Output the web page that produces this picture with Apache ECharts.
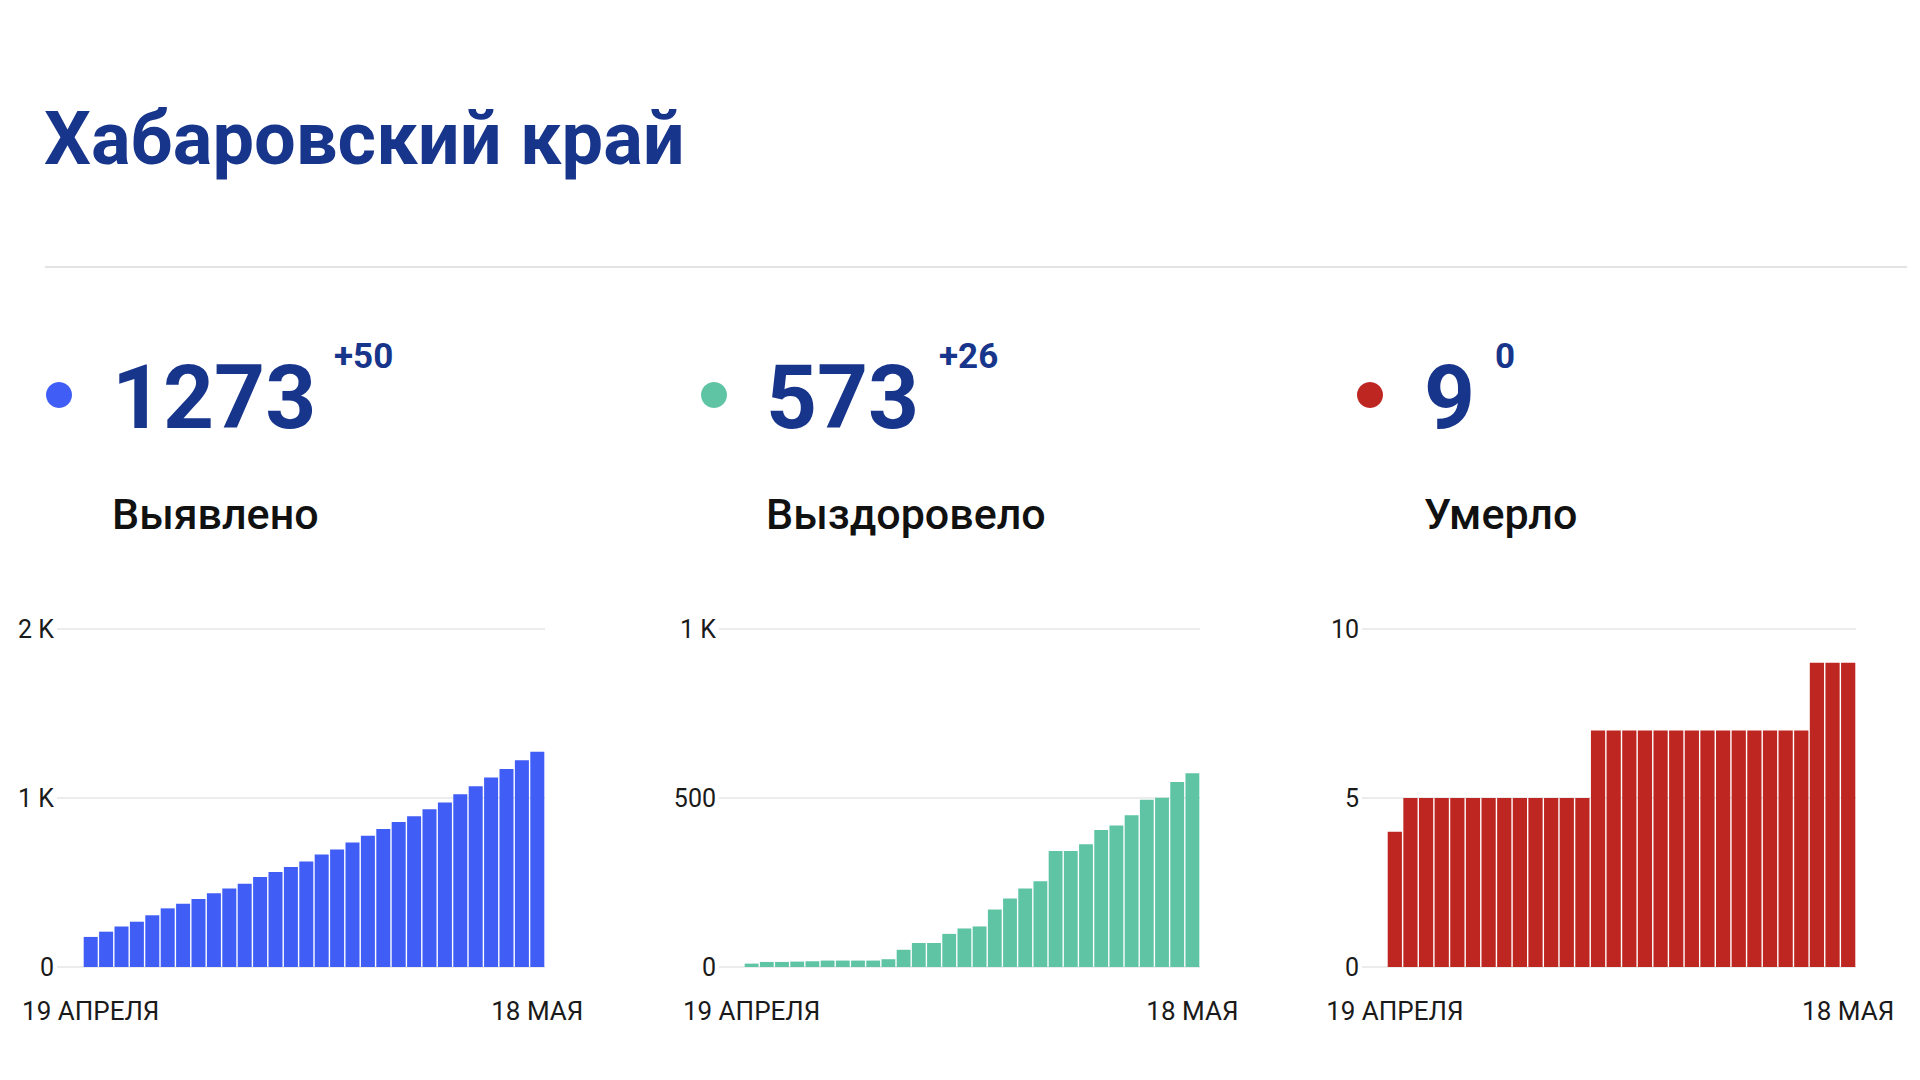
<!DOCTYPE html>
<html>
<head>
<meta charset="utf-8">
<script src="https://cdn.jsdelivr.net/npm/echarts@6/dist/echarts.min.js"></script>
<style>
html,body{margin:0;padding:0;background:#ffffff;}
#chart{width:1920px;height:1080px;}
</style>
</head>
<body>
<div id="chart"></div>
<script>
// ---- Data ----
const titleText = 'Хабаровский край';
const dates = ['19 АПРЕЛЯ','20 АПРЕЛЯ','21 АПРЕЛЯ','22 АПРЕЛЯ','23 АПРЕЛЯ','24 АПРЕЛЯ','25 АПРЕЛЯ','26 АПРЕЛЯ','27 АПРЕЛЯ','28 АПРЕЛЯ','29 АПРЕЛЯ','30 АПРЕЛЯ',
  '1 МАЯ','2 МАЯ','3 МАЯ','4 МАЯ','5 МАЯ','6 МАЯ','7 МАЯ','8 МАЯ','9 МАЯ','10 МАЯ','11 МАЯ','12 МАЯ','13 МАЯ','14 МАЯ','15 МАЯ','16 МАЯ','17 МАЯ','18 МАЯ'];
const detected  = [178,209,239,268,306,347,375,402,436,464,493,533,562,592,625,665,696,736,777,817,858,892,933,974,1022,1069,1122,1172,1223,1273];
const recovered = [10,15,15,16,17,19,19,19,19,23,51,71,71,98,114,120,170,203,232,254,343,343,363,405,419,449,495,501,547,573];
const deaths    = [4,5,5,5,5,5,5,5,5,5,5,5,5,7,7,7,7,7,7,7,7,7,7,7,7,7,7,9,9,9];
const totals = ['1273','573','9'];
const deltas = ['+50','+26','0'];
const names  = ['Выявлено','Выздоровело','Умерло'];
const detectedTicks  = {0:'0',1000:'1 K',2000:'2 K'};
const recoveredTicks = {0:'0',500:'500',1000:'1 K'};
const deathsTicks    = {0:'0',5:'5',10:'10'};

// ---- Layout / style ----
const navy = '#18358c';
const FONT = 'Roboto, "Noto Sans", sans-serif';
const panels = [
  {data: detected,  ticks: detectedTicks,  max: 2000, interval: 1000, color: '#405ef5', dotX: 59,   textX: 112,  supX: 334,  gridLeft: 57,   barLeft: 83,   right: 545},
  {data: recovered, ticks: recoveredTicks, max: 1000, interval: 500,  color: '#5ec4a4', dotX: 714,  textX: 766,  supX: 939,  gridLeft: 719,  barLeft: 744,  right: 1200},
  {data: deaths,    ticks: deathsTicks,    max: 10,   interval: 5,    color: '#be2622', dotX: 1370, textX: 1424, supX: 1495, gridLeft: 1362, barLeft: 1387, right: 1856}
];
const gridTop = 629, gridHeight = 338;

const grids = [], xAxes = [], yAxes = [], series = [], graphics = [];

graphics.push({type:'text', x: 44, y: 138, style:{text: titleText, font: 'bold 74px ' + FONT, fill: navy, textAlign:'left', textVerticalAlign:'middle'}});
graphics.push({type:'line', shape:{x1:45, y1:267, x2:1907, y2:267}, style:{stroke:'#e3e3e3', lineWidth:2}});

panels.forEach((p, i) => {
  graphics.push({type:'circle', shape:{cx:p.dotX, cy:395, r:13}, style:{fill:p.color}});
  graphics.push({type:'text', x:p.textX, y:397, style:{text: totals[i], font:'bold 89px ' + FONT, fill: navy, textAlign:'left', textVerticalAlign:'middle'}});
  graphics.push({type:'text', x:p.supX, y:356, style:{text: deltas[i], font:'bold 35px ' + FONT, fill: navy, textAlign:'left', textVerticalAlign:'middle'}});
  graphics.push({type:'text', x:p.textX, y:514, style:{text: names[i], font:'500 43px ' + FONT, fill: '#111111', textAlign:'left', textVerticalAlign:'middle'}});

  // grid with gridlines + y labels
  const ga = grids.length;
  grids.push({left: p.gridLeft, top: gridTop, width: p.right - p.gridLeft, height: gridHeight, containLabel:false});
  xAxes.push({gridIndex: ga, type:'value', show:false, min:0, max:1});
  yAxes.push({gridIndex: ga, type:'value', min:0, max:p.max, interval:p.interval,
    axisLine:{show:false}, axisTick:{show:false},
    splitLine:{show:true, lineStyle:{color:'#ececec', width:2}},
    axisLabel:{margin:3, color:'#1a1a1a', fontSize:25, fontFamily:FONT, formatter: v => p.ticks[v]}});
  // grid with bars
  const gb = grids.length;
  grids.push({left: p.barLeft, top: gridTop, width: p.right - p.barLeft, height: gridHeight, containLabel:false});
  xAxes.push({gridIndex: gb, type:'category', data: dates, boundaryGap:true,
    axisLine:{show:false}, axisTick:{show:false},
    axisLabel:{margin:31, color:'#1a1a1a', fontSize:26, fontFamily:FONT, interval: (idx) => idx === 0 || idx === dates.length - 1, hideOverlap:false}});
  yAxes.push({gridIndex: gb, type:'value', min:0, max:p.max, show:false, splitLine:{show:false}});
  series.push({type:'bar', xAxisIndex: gb, yAxisIndex: gb, data: p.data, barCategoryGap:'9%',
    itemStyle:{color:p.color}, silent:true, animation:false});
});

const chart = echarts.init(document.getElementById('chart'), null, {renderer:'svg', width:1920, height:1080});
chart.setOption({
  backgroundColor:'#ffffff',
  animation:false,
  grid: grids, xAxis: xAxes, yAxis: yAxes, series: series,
  graphic: graphics
});
</script>
</body>
</html>
